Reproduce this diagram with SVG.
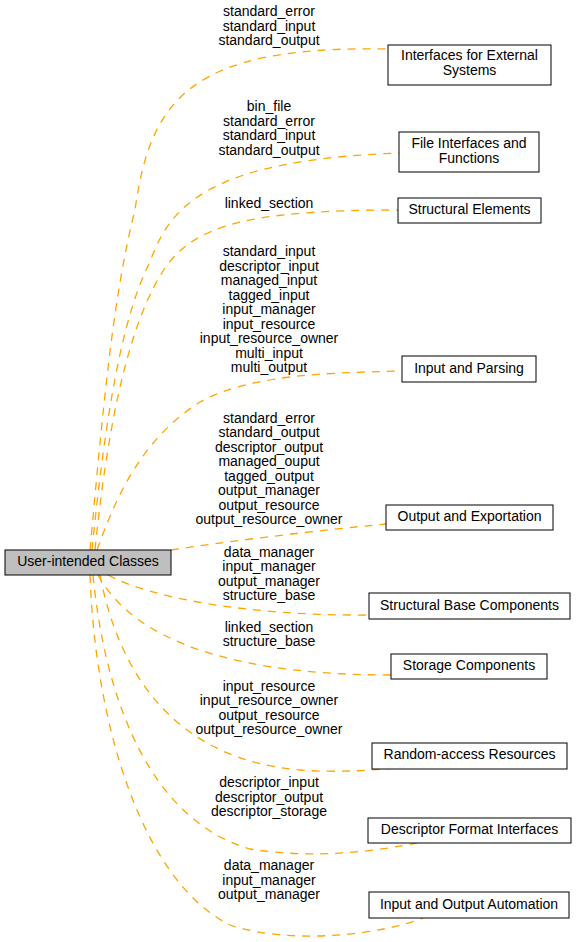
<svg xmlns="http://www.w3.org/2000/svg" width="576" height="942" viewBox="0 0 576 942">
<style>
text{font-family:"Liberation Sans",Arial,Helvetica,sans-serif;font-size:14px;fill:#000;text-anchor:middle}
.box{fill:#fff;stroke:#000;stroke-width:1}
.main{fill:#bfbfbf;stroke:#000;stroke-width:1}
.edge{fill:none;stroke:#ffa500;stroke-width:1.3;stroke-dasharray:8,7}
</style>
<rect width="576" height="942" fill="#fff"/>
<g id="connectors">
<path class="edge" d="M90,550 C102,420 112,300 135,210 C150,100 190,45 388,49"/>
<path class="edge" d="M92,550 C104,430 120,320 150,262 C170,205 210,160 399,153"/>
<path class="edge" d="M95,550 C108,420 130,320 165,268 C195,225 250,210 398,210"/>
<path class="edge" d="M97,550 C115,500 140,440 200,402 C250,375 320,373 402,371"/>
<path class="edge" d="M171,550 C215,543 320,530 386,524"/>
<path class="edge" d="M108,575 C150,598 250,616 369,615"/>
<path class="edge" d="M98,575 C125,625 200,675 391,675"/>
<path class="edge" d="M100,575 C120,680 180,760 300,770 C340,773 370,770 397,768"/>
<path class="edge" d="M93,575 C105,700 150,820 250,849 C320,860 380,850 417,843"/>
<path class="edge" d="M90,575 C95,720 140,880 230,925 C290,945 380,935 423,918"/>
</g>
<g id="edge-labels">
<text x="269" y="16">standard_error</text>
<text x="269" y="30.5">standard_input</text>
<text x="269" y="45">standard_output</text>
<text x="269" y="111">bin_file</text>
<text x="269" y="125.5">standard_error</text>
<text x="269" y="140">standard_input</text>
<text x="269" y="154.5">standard_output</text>
<text x="269" y="208">linked_section</text>
<text x="269" y="256">standard_input</text>
<text x="269" y="270.5">descriptor_input</text>
<text x="269" y="285">managed_input</text>
<text x="269" y="299.5">tagged_input</text>
<text x="269" y="314">input_manager</text>
<text x="269" y="328.5">input_resource</text>
<text x="269" y="343">input_resource_owner</text>
<text x="269" y="357.5">multi_input</text>
<text x="269" y="372">multi_output</text>
<text x="269" y="422.7">standard_error</text>
<text x="269" y="437.2">standard_output</text>
<text x="269" y="451.7">descriptor_output</text>
<text x="269" y="466.2">managed_ouput</text>
<text x="269" y="480.7">tagged_output</text>
<text x="269" y="495.2">output_manager</text>
<text x="269" y="509.7">output_resource</text>
<text x="269" y="524.2">output_resource_owner</text>
<text x="269" y="556.7">data_manager</text>
<text x="269" y="571.2">input_manager</text>
<text x="269" y="585.7">output_manager</text>
<text x="269" y="600.2">structure_base</text>
<text x="269" y="631.7">linked_section</text>
<text x="269" y="646.2">structure_base</text>
<text x="269" y="690.7">input_resource</text>
<text x="269" y="705.2">input_resource_owner</text>
<text x="269" y="719.7">output_resource</text>
<text x="269" y="734.2">output_resource_owner</text>
<text x="269" y="787.3">descriptor_input</text>
<text x="269" y="801.8">descriptor_output</text>
<text x="269" y="816.3">descriptor_storage</text>
<text x="269" y="870">data_manager</text>
<text x="269" y="884.5">input_manager</text>
<text x="269" y="899">output_manager</text>
</g>
<g id="node-main">
<rect class="main" x="5" y="550" width="166" height="25"/>
<text x="88" y="566">User-intended Classes</text>
</g>
<g id="node-external">
<rect class="box" x="388" y="45" width="163" height="40"/>
<text x="469.5" y="60">Interfaces for External</text>
<text x="469.5" y="75">Systems</text>
</g>
<g id="node-file">
<rect class="box" x="399" y="132" width="140" height="40"/>
<text x="469" y="148">File Interfaces and</text>
<text x="469" y="163">Functions</text>
</g>
<g id="node-structural">
<rect class="box" x="398" y="198" width="143" height="25"/>
<text x="469.5" y="214">Structural Elements</text>
</g>
<g id="node-input">
<rect class="box" x="402" y="356" width="134" height="26"/>
<text x="469" y="373">Input and Parsing</text>
</g>
<g id="node-output">
<rect class="box" x="386" y="505" width="167" height="25"/>
<text x="469.5" y="521">Output and Exportation</text>
</g>
<g id="node-structbase">
<rect class="box" x="369" y="593" width="201" height="26"/>
<text x="469.5" y="609.5">Structural Base Components</text>
</g>
<g id="node-storage">
<rect class="box" x="391" y="654" width="156" height="25"/>
<text x="469" y="670">Storage Components</text>
</g>
<g id="node-random">
<rect class="box" x="372" y="743" width="195" height="26"/>
<text x="469.5" y="758.5">Random-access Resources</text>
</g>
<g id="node-descriptor">
<rect class="box" x="368" y="818" width="203" height="25"/>
<text x="469.5" y="833.5">Descriptor Format Interfaces</text>
</g>
<g id="node-automation">
<rect class="box" x="369" y="892" width="200" height="26"/>
<text x="469" y="908.5">Input and Output Automation</text>
</g>
</svg>
